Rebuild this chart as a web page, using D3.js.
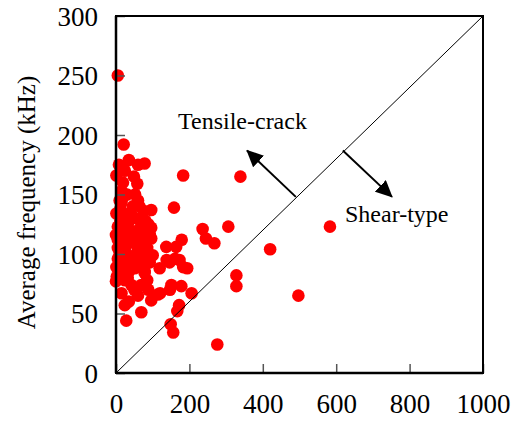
<!DOCTYPE html>
<html>
<head>
<meta charset="utf-8">
<script src="https://cdn.jsdelivr.net/npm/d3@7"></script>
<style>
  body { margin: 0; background: #fff; }
</style>
</head>
<body>
<script>
// datos (eje x sin titulo, eje y: frecuencia media kHz)
let xVals = [5, 21, 8, 35, 60, 78, 1, 24, 49, 58, 19, 15, 183, 339, 15, 46, 1, 76, 96, 158,
             24, 5, 33, 69, 96, 46, 74, 0, 15, 92, 236, 306, 245, 268, 179, 5, 42, 69, 96, 24,
             60, 137, 164, 420, 5, 33, 69, 92, 1, 24, 51, 78, 119, 146, 173, 183, 194, 161, 138, 328,
             328, 583, 497, 0, 24, 42, 69, 151, 178, 15, 60, 96, 114, 147, 206, 120, 24, 172, 69, 167,
             28, 149, 156, 276, 10, 35, 55, 85, 15, 40, 80, 10, 30, 60, 5, 45, 85, 35, 50, 100,
             20, 60, 2, 30, 88, 55, 12, 38, 65, 88, 18, 50, 75, 8, 28, 48, 70, 90, 12, 40,
             64, 20, 52, 78, 32]
let yVals = [250, 192, 175, 179, 175, 176, 166, 170, 165, 159, 160, 153, 166, 165, 143, 140, 134, 136, 137, 139,
             131, 123, 126, 124, 122, 117, 117, 116, 115, 116, 121, 123, 113, 109, 112, 112, 112, 113, 113, 103,
             105, 106, 106, 104, 96, 95, 96, 93, 89, 88, 88, 86, 88, 93, 95, 89, 88, 96, 95, 82,
             73, 123, 65, 77, 78, 74, 74, 74, 73, 67, 65, 61, 66, 70, 67, 67, 57, 57, 51, 52,
             44, 41, 34, 24, 100, 85, 100, 105, 82, 130, 128, 145, 150, 145, 105, 95, 78, 60, 70, 99,
             120, 120, 81, 108, 70, 130, 128, 120, 110, 125, 108, 113, 103, 92, 100, 90, 92, 98, 138, 135,
             140, 148, 150, 84, 80]

let xTicks = [0, 200, 400, 600, 800, 1000]
let yTicks = [0, 50, 100, 150, 200, 250, 300]
let yTitle = "Average frequency (kHz)"

// anotaciones (en unidades de datos)
let labelTensile = {text: "Tensile-crack", x: 169, y: 205}
let labelShear = {text: "Shear-type", x: 624, y: 127}
let arrowTensile = {x1: 490, y1: 148, x2: 357, y2: 187}
let arrowShear = {x1: 618, y1: 187, x2: 752, y2: 148}

let fuente = "'Liberation Serif', 'Times New Roman', serif"
let margin = {left: 116, top: 16}
let w = 367, h = 357

let svg = d3.select("body")
        .append("svg")
        .attr("width", 522)
        .attr("height", 435)
        .attr("font-family", fuente)

let g = svg.append("g")
        .attr("transform", "translate(" + margin.left + "," + margin.top + ")")

let x = d3.scaleLinear().domain([0, 1000]).range([0, w])
let y = d3.scaleLinear().domain([0, 300]).range([h, 0])

// puntos
let puntos = xVals.map((v, i) => ({x: v, y: yVals[i]}))
g.append("g")
        .selectAll("circle")
        .data(puntos)
        .join("circle")
        .attr("cx", d => x(d.x))
        .attr("cy", d => y(d.y))
        .attr("r", 6.3)
        .attr("fill", "#ff0000")

// linea diagonal
g.append("line")
        .attr("x1", x(0)).attr("y1", y(0))
        .attr("x2", x(1000)).attr("y2", y(300))
        .attr("stroke", "#000")
        .attr("stroke-width", 1)

// flechas
svg.append("defs").append("marker")
        .attr("id", "flecha")
        .attr("markerUnits", "userSpaceOnUse")
        .attr("viewBox", "0 0 17 16")
        .attr("refX", 16).attr("refY", 8)
        .attr("markerWidth", 17).attr("markerHeight", 16)
        .attr("orient", "auto")
        .append("path")
        .attr("d", "M0,0 L17,8 L0,16 Z")
        .attr("fill", "#000")

;[arrowTensile, arrowShear].forEach(a => {
    g.append("line")
        .attr("x1", x(a.x1)).attr("y1", y(a.y1))
        .attr("x2", x(a.x2)).attr("y2", y(a.y2))
        .attr("stroke", "#000")
        .attr("stroke-width", 2)
        .attr("marker-end", "url(#flecha)")
})

;[labelTensile, labelShear].forEach(l => {
    g.append("text")
        .attr("x", x(l.x))
        .attr("y", y(l.y))
        .attr("font-family", fuente)
        .attr("font-size", 24)
        .attr("fill", "#000")
        .text(l.text)
})

// ejes con ticks hacia dentro
let ejeX = g.append("g")
        .attr("transform", "translate(0," + h + ")")
        .call(d3.axisBottom(x).tickValues(xTicks).tickSize(-9).tickPadding(0).tickFormat(d3.format("d")))
let ejeY = g.append("g")
        .call(d3.axisLeft(y).tickValues(yTicks).tickSize(-9).tickPadding(0).tickFormat(d3.format("d")))

ejeX.select(".domain").remove()
ejeY.select(".domain").remove()
ejeX.attr("font-family", fuente)
ejeY.attr("font-family", fuente)
g.selectAll(".tick line").attr("stroke", "#555").attr("stroke-width", 1.5)

ejeX.selectAll("text")
        .attr("font-family", fuente)
        .attr("font-size", 27)
        .attr("fill", "#000")
        .attr("y", 40)
        .attr("dy", 0)
ejeY.selectAll("text")
        .attr("font-family", fuente)
        .attr("font-size", 27)
        .attr("fill", "#000")
        .attr("x", -18)
        .attr("dy", "0.35em")

// marco
g.append("rect")
        .attr("width", w).attr("height", h)
        .attr("fill", "none")
        .attr("stroke", "#000")
        .attr("stroke-width", 2)
g.append("line")
        .attr("x1", 0).attr("y1", 0).attr("x2", 0).attr("y2", h)
        .attr("stroke", "#000").attr("stroke-width", 2.5)
g.append("line")
        .attr("x1", 0).attr("y1", h).attr("x2", w).attr("y2", h)
        .attr("stroke", "#000").attr("stroke-width", 2.5)

// titulo eje y
svg.append("text")
        .attr("transform", "translate(35," + (margin.top + h / 2 + 8) + ") rotate(-90)")
        .attr("text-anchor", "middle")
        .attr("font-family", fuente)
        .attr("font-size", 25)
        .attr("fill", "#000")
        .text(yTitle)
</script>
</body>
</html>
